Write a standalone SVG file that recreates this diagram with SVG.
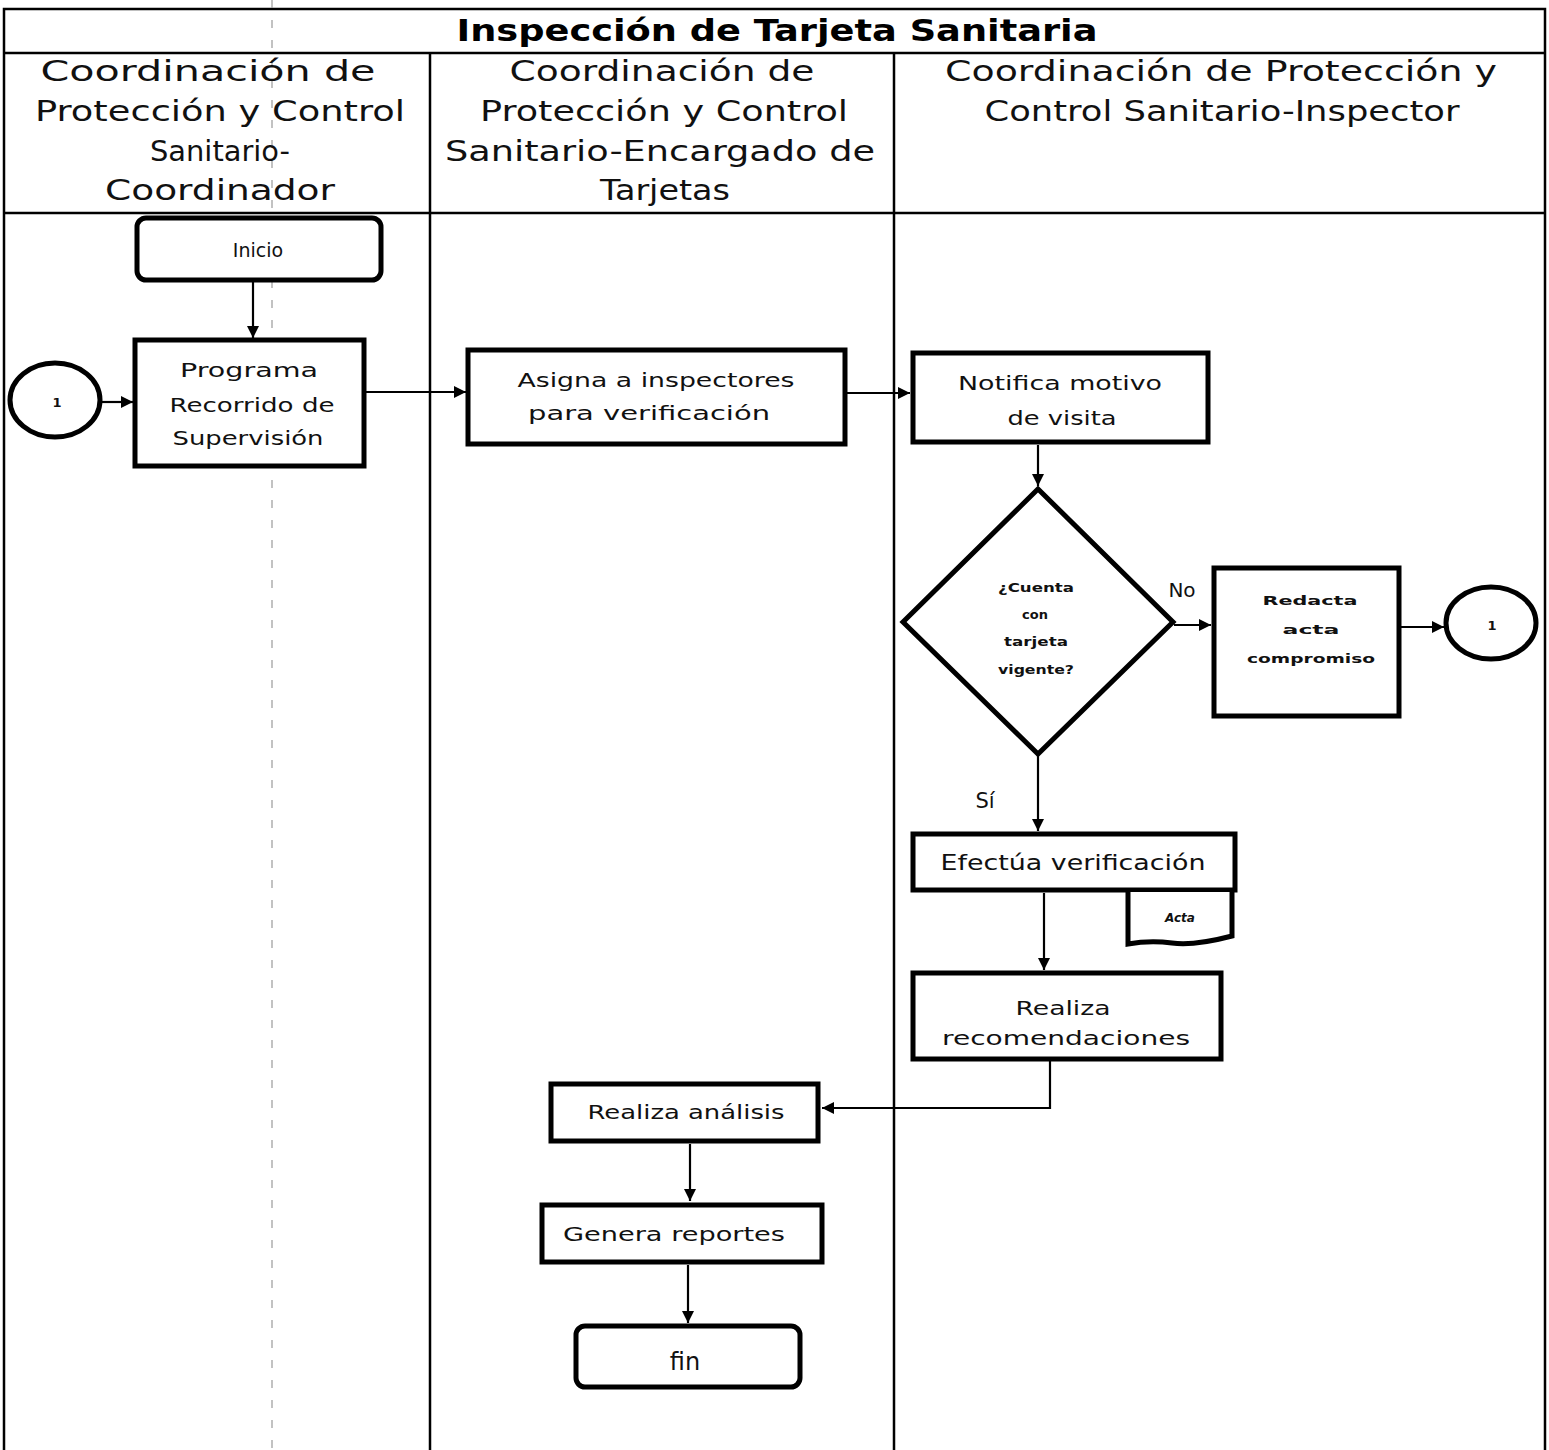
<svg xmlns="http://www.w3.org/2000/svg" width="1549" height="1450" viewBox="0 0 1549 1450">
  <defs>
    <marker id="arrow" viewBox="0 0 10 10" refX="10" refY="5" markerWidth="12" markerHeight="12" markerUnits="userSpaceOnUse" orient="auto">
      <path d="M0,0 L10,5 L0,10 Z" fill="#000"/>
    </marker>
    <style>
      .frame { fill: none; stroke: #000; stroke-width: 2.5; }
      .lane { stroke: #000; stroke-width: 2.5; }
      .guide { stroke: #9a9a9a; stroke-width: 1.2; stroke-dasharray: 8 12; }
      .box { fill: #fff; stroke: #000; stroke-width: 5; }
      .term { fill: #fff; stroke: #000; stroke-width: 5; }
      .conn { fill: none; stroke: #000; stroke-width: 2.2; marker-end: url(#arrow); }
      .t { font-family: "DejaVu Sans", "Liberation Sans", sans-serif; fill: #111; text-anchor: middle; dominant-baseline: central; }
      .hdr { font-family: "DejaVu Sans", "Liberation Sans", sans-serif; fill: #111; text-anchor: middle; font-size: 28px; }
      .title { font-family: "DejaVu Sans", "Liberation Sans", sans-serif; font-weight: bold; font-size: 31px; fill: #000; text-anchor: middle; }
      .n18 { font-size: 19px; }
      .n13 { font-size: 13px; font-weight: bold; }
    </style>
  </defs>

  <rect width="1549" height="1450" fill="#fff"/>

  <!-- pool frame, title row, header row and lane dividers -->
  <g id="pool">
    <path class="frame" d="M4,1450 V9 H1545 V1450"/>
    <line class="lane" x1="4" y1="53" x2="1545" y2="53"/>
    <line class="lane" x1="4" y1="213" x2="1545" y2="213"/>
    <line class="lane" x1="430" y1="53" x2="430" y2="1450"/>
    <line class="lane" x1="894" y1="53" x2="894" y2="1450"/>
    <line class="guide" x1="272" y1="0" x2="272" y2="1450"/>
    <text class="title" x="777" y="41" textLength="641" lengthAdjust="spacingAndGlyphs">Inspección de Tarjeta Sanitaria</text>
  </g>

  <g id="lane-coordinador">
    <text class="hdr" x="208" y="81" textLength="335" lengthAdjust="spacingAndGlyphs">Coordinación de</text>
    <text class="hdr" x="220" y="121" textLength="370" lengthAdjust="spacingAndGlyphs">Protección y Control</text>
    <text class="hdr" x="220" y="161" textLength="140" lengthAdjust="spacingAndGlyphs">Sanitario-</text>
    <text class="hdr" x="220" y="200" textLength="230" lengthAdjust="spacingAndGlyphs">Coordinador</text>
  </g>
  <g id="lane-encargado">
    <text class="hdr" x="662" y="81" textLength="305" lengthAdjust="spacingAndGlyphs">Coordinación de</text>
    <text class="hdr" x="664" y="121" textLength="368" lengthAdjust="spacingAndGlyphs">Protección y Control</text>
    <text class="hdr" x="660" y="161" textLength="430" lengthAdjust="spacingAndGlyphs">Sanitario-Encargado de</text>
    <text class="hdr" x="665" y="200" textLength="130" lengthAdjust="spacingAndGlyphs">Tarjetas</text>
  </g>
  <g id="lane-inspector">
    <text class="hdr" x="1221" y="81" textLength="552" lengthAdjust="spacingAndGlyphs">Coordinación de Protección y</text>
    <text class="hdr" x="1222" y="121" textLength="475" lengthAdjust="spacingAndGlyphs">Control Sanitario-Inspector</text>
  </g>

  <!-- connectors -->
  <g id="connectors">
    <path class="conn" d="M253,282 V338"/>
    <path class="conn" d="M101,402 H133"/>
    <path class="conn" d="M365,392 H466"/>
    <path class="conn" d="M847,393 H910"/>
    <path class="conn" d="M1038,445 V486"/>
    <path class="conn" d="M1174,625 H1211"/>
    <path class="conn" d="M1400,627 H1444"/>
    <path class="conn" d="M1038,755 V831"/>
    <path class="conn" d="M1044,893 V970"/>
    <path class="conn" d="M1050,1060 V1108 H822" stroke="#444"/>
    <path class="conn" d="M690,1144 V1201"/>
    <path class="conn" d="M688,1265 V1323"/>
  </g>

  <!-- nodes -->
  <g id="inicio">
    <rect class="term" x="137" y="218" width="244" height="62" rx="9"/>
    <text class="t n18" x="258" y="250">Inicio</text>
  </g>

  <g id="conector-entrada">
    <ellipse class="term" cx="55" cy="400" rx="45" ry="37"/>
    <text class="t n13" x="57" y="402">1</text>
  </g>

  <g id="programa">
    <rect class="box" x="135" y="340" width="229" height="126"/>
    <text class="t n18" x="249" y="370" textLength="138" lengthAdjust="spacingAndGlyphs">Programa</text>
    <text class="t n18" x="252" y="405" textLength="165" lengthAdjust="spacingAndGlyphs">Recorrido de</text>
    <text class="t n18" x="248" y="438" textLength="151" lengthAdjust="spacingAndGlyphs">Supervisión</text>
  </g>

  <g id="asigna">
    <rect class="box" x="468" y="350" width="377" height="94"/>
    <text class="t n18" x="656" y="380" textLength="277" lengthAdjust="spacingAndGlyphs">Asigna a inspectores</text>
    <text class="t n18" x="649" y="413" textLength="242" lengthAdjust="spacingAndGlyphs">para verificación</text>
  </g>

  <g id="notifica">
    <rect class="box" x="913" y="353" width="295" height="89"/>
    <text class="t n18" x="1060" y="383" textLength="204" lengthAdjust="spacingAndGlyphs">Notifica motivo</text>
    <text class="t n18" x="1062" y="418" textLength="109" lengthAdjust="spacingAndGlyphs">de visita</text>
  </g>

  <g id="decision">
    <polygon class="box" points="1038,489 1173,622 1038,754 903,622"/>
    <text class="t n13" x="1036" y="587" textLength="76" lengthAdjust="spacingAndGlyphs">¿Cuenta</text>
    <text class="t n13" x="1035" y="614">con</text>
    <text class="t n13" x="1036" y="641" textLength="64" lengthAdjust="spacingAndGlyphs">tarjeta</text>
    <text class="t n13" x="1036" y="669" textLength="76" lengthAdjust="spacingAndGlyphs">vigente?</text>
    <text class="t" x="1182" y="590" font-size="20">No</text>
    <text class="t" x="985" y="801" font-size="21">Sí</text>
  </g>

  <g id="redacta">
    <rect class="box" x="1214" y="568" width="185" height="148"/>
    <text class="t n13" x="1310" y="600" textLength="95" lengthAdjust="spacingAndGlyphs">Redacta</text>
    <text class="t n13" x="1311" y="629" textLength="57" lengthAdjust="spacingAndGlyphs">acta</text>
    <text class="t n13" x="1311" y="658" textLength="128" lengthAdjust="spacingAndGlyphs">compromiso</text>
  </g>

  <g id="conector-salida">
    <ellipse class="term" cx="1491" cy="623" rx="45" ry="36"/>
    <text class="t n13" x="1492" y="625">1</text>
  </g>

  <g id="efectua">
    <rect class="box" x="913" y="834" width="322" height="56"/>
    <text class="t" x="1073" y="863" font-size="21" textLength="265" lengthAdjust="spacingAndGlyphs">Efectúa verificación</text>
  </g>

  <g id="acta">
    <path class="box" stroke-width="4" d="M1128,892 V944 Q1150,940 1172,943 T1232,936 V892"/>
    <text class="t" x="1180" y="918" font-size="12" font-weight="bold" font-style="italic">Acta</text>
  </g>

  <g id="recomendaciones">
    <rect class="box" x="913" y="973" width="308" height="86"/>
    <text class="t n18" x="1063" y="1008" textLength="95" lengthAdjust="spacingAndGlyphs">Realiza</text>
    <text class="t n18" x="1066" y="1038" textLength="248" lengthAdjust="spacingAndGlyphs">recomendaciones</text>
  </g>

  <g id="analisis">
    <rect class="box" x="551" y="1084" width="267" height="57"/>
    <text class="t n18" x="686" y="1112" textLength="197" lengthAdjust="spacingAndGlyphs">Realiza análisis</text>
  </g>

  <g id="reportes">
    <rect class="box" x="542" y="1205" width="280" height="57"/>
    <text class="t n18" x="674" y="1234" textLength="222" lengthAdjust="spacingAndGlyphs">Genera reportes</text>
  </g>

  <g id="fin">
    <rect class="term" x="576" y="1326" width="224" height="61" rx="9"/>
    <text class="t" x="685" y="1362" font-size="24">fin</text>
  </g>
</svg>
